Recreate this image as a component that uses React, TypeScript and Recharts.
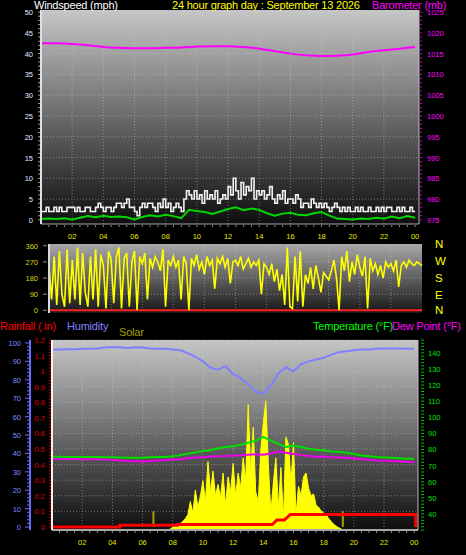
import React from 'react';
import {
  ComposedChart, Line, Area, XAxis, YAxis, CartesianGrid, ReferenceLine,
} from 'recharts';

const FONT = '"Liberation Sans", Arial, sans-serif';

// 10 minute samples, 00:00 -> 24:00
const windSpeed = [
  2, 2, 3, 2, 2, 3, 2, 3, 2, 2, 3, 3, 3, 2, 3, 2, 2, 3, 3, 2, 2, 3, 4, 3,
  2, 3, 3, 2, 3, 4, 4, 3, 4, 5, 3, 3, 2, 1, 3, 4, 3, 4, 4, 3, 2, 4, 3, 5,
  3, 4, 2, 3, 4, 3, 2, 5, 7, 6, 5, 7, 5, 6, 4, 7, 5, 6, 5, 7, 4, 5, 6, 5,
  8, 6, 10, 7, 5, 9, 6, 8, 7, 10, 5, 7, 6, 7, 5, 6, 8, 5, 4, 6, 5, 7, 4, 5,
  5, 4, 6, 5, 3, 4, 4, 3, 5, 4, 3, 4, 3, 4, 3, 2, 3, 4, 3, 2, 3, 2, 3, 2,
  2, 3, 2, 3, 2, 2, 3, 2, 2, 3, 2, 3, 2, 3, 3, 2, 2, 3, 2, 3, 2, 2, 3, 2,
  2,
];
const windDirection = [
  250, 60, 300, 30, 330, 90, 20, 340, 40, 280, 60, 350,
  30, 320, 100, 20, 300, 60, 340, 20, 310, 250, 10, 330,
  280, 40, 300, 350, 10, 290, 320, 20, 270, 330, 0, 300,
  260, 320, 60, 290, 240, 300, 270, 220, 340, 20, 280, 250,
  300, 240, 280, 60, 300, 260, 0, 290, 250, 310, 230, 270,
  200, 300, 250, 280, 120, 290, 260, 300, 240, 290, 150, 270,
  280, 250, 300, 230, 260, 290, 240, 270, 250, 280, 90, 260,
  240, 200, 260, 160, 230, 110, 200, 30, 350, 20, 10, 300,
  50, 330, 20, 200, 150, 240, 120, 250, 180, 100, 210, 190,
  170, 220, 280, 180, 0, 300, 220, 330, 160, 270, 200, 310,
  240, 190, 300, 10, 290, 220, 260, 200, 250, 180, 270, 240,
  260, 220, 280, 130, 250, 270, 240, 280, 260, 250, 270, 260,
  250,
];
const solar = [
  0, 0, 0, 0, 0, 0, 0, 0, 0, 0, 0, 0, 0, 0, 0, 0, 0, 0, 0, 0, 0, 0, 0, 0,
  0, 0, 0, 0, 0, 0, 0, 0, 0, 0, 0, 0, 0, 0, 0, 0, 0, 0, 0, 0, 0, 0, 0, 5,
  15, 25, 20, 35, 45, 60, 80, 150, 90, 210, 120, 180,
  260, 150, 360, 200, 310, 180, 240, 170, 300, 130, 280, 200,
  350, 180, 300, 220, 380, 260, 660, 300, 540, 200, 150, 420,
  560, 680, 350, 90, 250, 380, 120, 330, 60, 490, 450, 250,
  460, 80, 230, 180, 280, 300, 220, 180, 190, 130, 120, 100,
  90, 80, 60, 45, 30, 20, 12, 5, 0, 0, 0, 0,
  0, 0, 0, 0, 0, 0, 0, 0, 0, 0, 0, 0, 0, 0, 0, 0, 0, 0, 0, 0, 0, 0, 0, 0,
  0,
];

// 30 minute samples
const windAvg = [
  0.2, 0.3, 0.2, 0.4, 0.1, 0.5, 0.9, 0.6, 1.0, 0.7, 0.8, 0.6, 0.1, 0.7, 1.1, 0.8,
  1.2, 0.9, 0.4, 2.4, 2.1, 1.9, 1.4, 2.0, 2.6, 3.0, 2.3, 2.7, 2.4, 1.6, 1.0, 1.5,
  1.7, 1.2, 1.1, 1.6, 1.9, 1.0, 0.3, 0.2, 0.1, 0.3, 0.2, 0.5, 0.3, 0.8, 0.4, 0.9,
  0.5,
];
const humidity = [
  96.5, 96.5, 96.6, 96.6, 96.8, 96.9, 97.0, 97.5, 97.8, 97.6, 97.2, 97.6, 97.5, 97.0, 96.9, 96.8,
  96.5, 96.0, 94.5, 92.5, 90.0, 86.5, 85.5, 87.5, 83.0, 81.0, 77.5, 73.5, 72.5, 77.0, 83.5, 87.0,
  84.5, 88.5, 90.0, 91.0, 92.0, 93.5, 95.0, 95.5, 96.0, 96.5, 96.5, 96.8, 97.0, 97.0, 97.0, 96.8,
  96.8,
];
const temperature = [
  75.5, 75.5, 75.4, 75.4, 75.4, 75.3, 75.3, 75.2, 75.2, 75.0, 74.8, 74.8, 74.9, 75.2, 75.3, 75.4,
  75.8, 76.5, 77.3, 78.2, 79.0, 79.5, 80.8, 81.6, 82.0, 83.0, 84.2, 85.5, 87.8, 85.5, 83.5, 81.5,
  82.5, 81.5, 80.5, 79.8, 79.5, 78.8, 78.6, 78.0, 77.2, 76.3, 75.8, 75.3, 75.0, 74.8, 74.5, 74.3,
  74.2,
];
const dewPoint = [
  74.2, 74.2, 74.1, 74.1, 74.0, 74.0, 73.9, 73.8, 73.6, 73.2, 72.9, 72.7, 72.6, 72.8, 73.1, 73.5,
  73.8, 74.0, 74.5, 75.0, 75.2, 75.6, 75.8, 75.9, 76.3, 76.4, 76.8, 77.0, 76.8, 77.5, 78.8, 78.0,
  77.2, 76.5, 76.0, 75.5, 75.6, 75.2, 75.0, 74.8, 74.4, 74.0, 73.6, 73.2, 73.0, 72.8, 72.6, 72.4,
  72.3,
];

// hourly
const barometer = [
  1017.5, 1017.5, 1017.3, 1017.0, 1016.6, 1016.4, 1016.3, 1016.3, 1016.4, 1016.5, 1016.7, 1016.8,
  1016.8, 1016.6, 1016.2, 1015.6, 1015.0, 1014.6, 1014.4, 1014.5, 1014.8, 1015.4, 1015.8, 1016.2,
  1016.6,
];

// accumulated rainfall
const rainHours = [0, 4.5, 4.5, 8.3, 8.3, 14.6, 14.9, 15.4, 15.8, 24.1, 24.1];
const rainTotals = [0, 0, 0.01, 0.01, 0.015, 0.015, 0.045, 0.045, 0.08, 0.08, 0];
const sunHours = [6.72, 19.27];

// axis labels
const hourTicks = [2, 4, 6, 8, 10, 12, 14, 16, 18, 20, 22, 24];
const hourLabels = ['02', '04', '06', '08', '10', '12', '14', '16', '18', '20', '22', '00'];
const windLabels = [0, 5, 10, 15, 20, 25, 30, 35, 40, 45, 50];
const baroLabels = [975, 980, 985, 990, 995, 1000, 1005, 1010, 1015, 1020, 1025];
const dirLabels = [0, 90, 180, 270, 360];
const compass = ['N', 'W', 'S', 'E', 'N'];
const humLabels = [0, 10, 20, 30, 40, 50, 60, 70, 80, 90, 100];
const rainLabels = [0, 0.1, 0.2, 0.3, 0.4, 0.5, 0.6, 0.7, 0.8, 0.9, 1, 1.1, 1.2];
const tempLabels = [40, 50, 60, 70, 80, 90, 100, 110, 120, 130, 140];

const steps = (from: number, to: number, step: number) => {
  const out: number[] = [];
  for (let v = from; v <= to + 1e-9; v += step) out.push(Math.round(v * 1000) / 1000);
  return out;
};
const series = (vals: number[], every: number) => vals.map((v, i) => ({ h: i * every, v }));
const has = (list: number[], v: number) => list.some((l) => Math.abs(l - v) < 1e-6);

const speedData = series(windSpeed, 1 / 6);
const dirData = series(windDirection, 1 / 6);
const solarData = series(solar, 1 / 6);
const avgData = series(windAvg, 0.5);
const humData = series(humidity, 0.5);
const tempData = series(temperature, 0.5);
const dewData = series(dewPoint, 0.5);
const baroData = series(barometer, 1);
const rainData = rainHours.map((h, i) => ({ h, v: rainTotals[i] }));

const txt = { fontFamily: FONT, fontSize: 7.5 };

const HourTick = (p: any) => {
  const v = p.payload.value;
  const i = hourTicks.indexOf(v);
  return (
    <g>
      <line x1={p.x} x2={p.x} y1={p.y + 1} y2={p.y + 3} stroke="#8a8a8a" />
      {i >= 0 && (
        <text x={p.x} y={p.y + 15} textAnchor="middle" fill="#e8e800" style={txt}>{hourLabels[i]}</text>
      )}
    </g>
  );
};

const WindTick = (p: any) => {
  const v = p.payload.value;
  return (
    <g>
      <line x1={p.x - 3} x2={p.x - 1} y1={p.y} y2={p.y} stroke="#9a9a9a" />
      {has(windLabels, v) && (
        <text x={p.x - 8} y={p.y + 3} textAnchor="end" fill="#e4ecff" style={txt}>{v}</text>
      )}
    </g>
  );
};

const BaroTick = (p: any) => {
  const v = p.payload.value;
  return (
    <g>
      <line x1={p.x + 1} x2={p.x + 3} y1={p.y} y2={p.y} stroke="#c000c0" />
      {has(baroLabels, v) && (
        <text x={p.x + 8} y={p.y + 3} textAnchor="start" fill="#ff00ff" style={txt}>{v}</text>
      )}
    </g>
  );
};

const DirTick = (p: any) => (
  <g>
    <line x1={p.x - 6} x2={p.x - 2} y1={p.y} y2={p.y} stroke="#8a8a8a" />
    <text x={p.x - 11} y={p.y + 3} textAnchor="end" fill="#d8d800" style={txt}>{p.payload.value}</text>
  </g>
);

const RainTick = (p: any) => {
  const v = p.payload.value;
  return (
    <g>
      <line x1={p.x - 3} x2={p.x - 1} y1={p.y} y2={p.y} stroke="#d00000" />
      {has(rainLabels, v) && (
        <text x={p.x - 7} y={p.y + 3} textAnchor="end" fill="#e00000" style={txt}>
          {String(Math.round(v * 10) / 10)}
        </text>
      )}
    </g>
  );
};

const HumTick = (p: any) => {
  const v = p.payload.value;
  const major = has(humLabels, v);
  return (
    <g>
      <line x1={p.x - (major ? 5 : 3)} x2={p.x} y1={p.y} y2={p.y} stroke="#6a6aff" />
      {major && (
        <text x={p.x - 9} y={p.y + 3} textAnchor="end" fill="#7c8cff" style={txt}>{v}</text>
      )}
    </g>
  );
};

const TempTick = (p: any) => {
  const v = p.payload.value;
  return (
    <g>
      <line x1={p.x + 3} x2={p.x + 6} y1={p.y} y2={p.y} stroke="#00c000" />
      {has(tempLabels, v) && (
        <text x={p.x + 10} y={p.y + 3} textAnchor="start" fill="#00e000" style={txt}>{v}</text>
      )}
    </g>
  );
};

const Gradient = ({ id, top, bottom }: { id: string; top: string; bottom: string }) => (
  <defs>
    <linearGradient id={id} x1="0" y1="0" x2="0" y2="1">
      <stop offset="0%" stopColor={top} />
      <stop offset="100%" stopColor={bottom} />
    </linearGradient>
  </defs>
);

const label = (text: string, left: number, top: number, color: string, size = 11) => (
  <div
    style={{
      position: 'absolute', left, top, color, fontFamily: FONT, fontSize: size,
      lineHeight: 1, whiteSpace: 'nowrap', letterSpacing: -0.2,
    }}
  >
    {text}
  </div>
);

const gridValues = [2, 4, 6, 8, 10, 12, 14, 16, 18, 20, 22];

export default function App() {
  return (
    <div style={{ position: 'absolute', left: 0, top: 0, width: 466, height: 555, background: '#000', overflow: 'hidden' }}>
      {/* wind speed + barometer */}
      <div style={{ position: 'absolute', left: 0, top: 0 }}>
        <ComposedChart width={466} height={244} margin={{ top: 10, right: 0, bottom: 0, left: 0 }}>
          <Gradient id="bgTop" top="#c6c6c6" bottom="#0e0e0e" />
          <CartesianGrid
            xAxisId="t" yAxisId="wind" fill="url(#bgTop)" stroke="#d0d0d0" strokeOpacity={0.45}
            strokeDasharray="1 2" verticalValues={gridValues} horizontalValues={[5, 10, 15, 20, 25, 30, 35, 40, 45, 50]}
          />
          <XAxis
            xAxisId="t" dataKey="h" type="number" domain={[0, 24.25]} ticks={steps(0.5, 24, 0.5)}
            interval={0} tick={HourTick} tickLine={false} tickSize={0} tickMargin={0} height={20}
            axisLine={{ stroke: '#a8a8a8' }} allowDataOverflow
          />
          <YAxis
            yAxisId="wind" domain={[-1, 50.5]} ticks={steps(0, 50, 1)} interval={0} tick={WindTick}
            tickLine={false} tickSize={0} tickMargin={0} width={41} axisLine={{ stroke: '#e0e0e0', strokeWidth: 2 }}
            allowDataOverflow
          />
          <YAxis
            yAxisId="baro" orientation="right" domain={[974, 1025.5]} ticks={steps(975, 1025, 1)} interval={0}
            tick={BaroTick} tickLine={false} tickSize={0} tickMargin={0} width={47}
            axisLine={{ stroke: '#bdbdbd' }} allowDataOverflow
          />
          <Line
            xAxisId="t" yAxisId="baro" data={baroData} dataKey="v" type="monotone" stroke="#ff00ff"
            strokeWidth={2} dot={false} isAnimationActive={false}
          />
          <Line
            xAxisId="t" yAxisId="wind" data={speedData} dataKey="v" type="stepAfter" stroke="#f2f2f2"
            strokeWidth={1.6} dot={false} isAnimationActive={false}
          />
          <Line
            xAxisId="t" yAxisId="wind" data={avgData} dataKey="v" type="linear" stroke="#00d800"
            strokeWidth={2} dot={false} isAnimationActive={false}
          />
        </ComposedChart>
      </div>
      {label('Windspeed (mph)', 34, 0, '#ffffff')}
      {label('24 hour graph day : September 13 2026', 172, 0, '#ffff00')}
      {label('Barometer (mb)', 372, 0, '#ff00ff')}

      {/* wind direction */}
      <div style={{ position: 'absolute', left: 0, top: 238 }}>
        <ComposedChart width={466} height={81} margin={{ top: 6, right: 44, bottom: 6, left: 0 }}>
          <Gradient id="bgMid" top="#a8a8a8" bottom="#161616" />
          <CartesianGrid
            xAxisId="m" yAxisId="dir" fill="url(#bgMid)" stroke="#d0d0d0" strokeOpacity={0.45}
            strokeDasharray="1 2" verticalValues={gridValues} horizontalValues={[90, 180, 270]}
          />
          <XAxis xAxisId="m" dataKey="h" type="number" domain={[0, 24]} hide />
          <YAxis
            yAxisId="dir" domain={[-15, 370]} ticks={dirLabels} interval={0} tick={DirTick}
            tickLine={false} tickSize={0} tickMargin={0} width={49}
            axisLine={{ stroke: '#d8d8d8', strokeWidth: 2 }} allowDataOverflow
          />
          <ReferenceLine xAxisId="m" yAxisId="dir" y={0} stroke="#ff2020" strokeWidth={2} />
          <Line
            xAxisId="m" yAxisId="dir" data={dirData} dataKey="v" type="linear" stroke="#ffff00"
            strokeWidth={1.6} dot={false} isAnimationActive={false}
          />
        </ComposedChart>
      </div>
      {compass.map((c, i) => (
        <div key={i}>{label(c, 435, [238.6, 255.6, 272.6, 289.6, 305.3][i], '#ffff00', 11.5)}</div>
      ))}

      {label('Rainfall (.in)', 0, 320.7, '#ff0000')}
      {label('Humidity', 67, 320.7, '#8080ff')}
      {label('Solar', 119, 326.7, '#a0a000')}
      {label('Temperature (°F)', 313, 320.7, '#00ff00')}
      {label('Dew Point (°F)', 392, 320.7, '#ff00ff')}

      {/* rain, humidity, solar, temperature, dew point */}
      <div style={{ position: 'absolute', left: 0, top: 335 }}>
        <ComposedChart width={466} height={217} margin={{ top: 5, right: 0, bottom: 0, left: 0 }}>
          <Gradient id="bgBot" top="#c6c6c6" bottom="#0e0e0e" />
          <CartesianGrid
            xAxisId="b" yAxisId="a_rain" fill="url(#bgBot)" stroke="#d0d0d0" strokeOpacity={0.45}
            strokeDasharray="1 2" verticalValues={gridValues} horizontalValues={rainLabels.slice(1)}
          />
          <XAxis
            xAxisId="b" dataKey="h" type="number" domain={[0, 24.25]} ticks={steps(0.5, 24, 0.5)}
            interval={0} tick={HourTick} tickLine={false} tickSize={0} tickMargin={0} height={22}
            axisLine={{ stroke: '#a8a8a8', strokeWidth: 2 }} allowDataOverflow
          />
          <YAxis
            yAxisId="a_rain" domain={[-0.02, 1.2]} ticks={steps(0, 1.2, 0.02)} interval={0} tick={RainTick}
            tickLine={false} tickSize={0} tickMargin={0} width={22}
            axisLine={{ stroke: '#f4f4f4', strokeWidth: 2 }} allowDataOverflow
          />
          <YAxis
            yAxisId="b_hum" domain={[-1.6, 101.6]} ticks={steps(0, 100, 2)} interval={0} tick={HumTick}
            tickLine={false} tickSize={0} tickMargin={0} width={30}
            axisLine={{ stroke: '#6a6aff', strokeWidth: 2 }} allowDataOverflow
          />
          <YAxis
            yAxisId="temp" orientation="right" domain={[30, 148]} ticks={steps(30, 148, 2)} interval={0}
            tick={TempTick} tickLine={false} tickSize={0} tickMargin={0} width={48}
            axisLine={{ stroke: '#bdbdbd' }} allowDataOverflow
          />
          <YAxis yAxisId="solar" domain={[0, 1000]} hide />
          <Area
            xAxisId="b" yAxisId="solar" data={solarData} dataKey="v" type="linear" stroke="#ffff00"
            strokeWidth={1} fill="#ffff00" fillOpacity={1} isAnimationActive={false}
          />
          <Line
            xAxisId="b" yAxisId="b_hum" data={humData} dataKey="v" type="linear" stroke="#8080ff"
            strokeWidth={2} dot={false} isAnimationActive={false}
          />
          <Line
            xAxisId="b" yAxisId="temp" data={dewData} dataKey="v" type="linear" stroke="#ee00ee"
            strokeWidth={2} dot={false} isAnimationActive={false}
          />
          <Line
            xAxisId="b" yAxisId="temp" data={tempData} dataKey="v" type="linear" stroke="#00e000"
            strokeWidth={2} dot={false} isAnimationActive={false}
          />
          {sunHours.map((h) => (
            <ReferenceLine
              key={h} xAxisId="b" yAxisId="a_rain" segment={[{ x: h, y: 0 }, { x: h, y: 0.1 }]}
              stroke="#a0a000" strokeWidth={2}
            />
          ))}
          <Line
            xAxisId="b" yAxisId="a_rain" data={rainData} dataKey="v" type="linear" stroke="#ff0000"
            strokeWidth={3} dot={false} isAnimationActive={false}
          />
        </ComposedChart>
      </div>
    </div>
  );
}
